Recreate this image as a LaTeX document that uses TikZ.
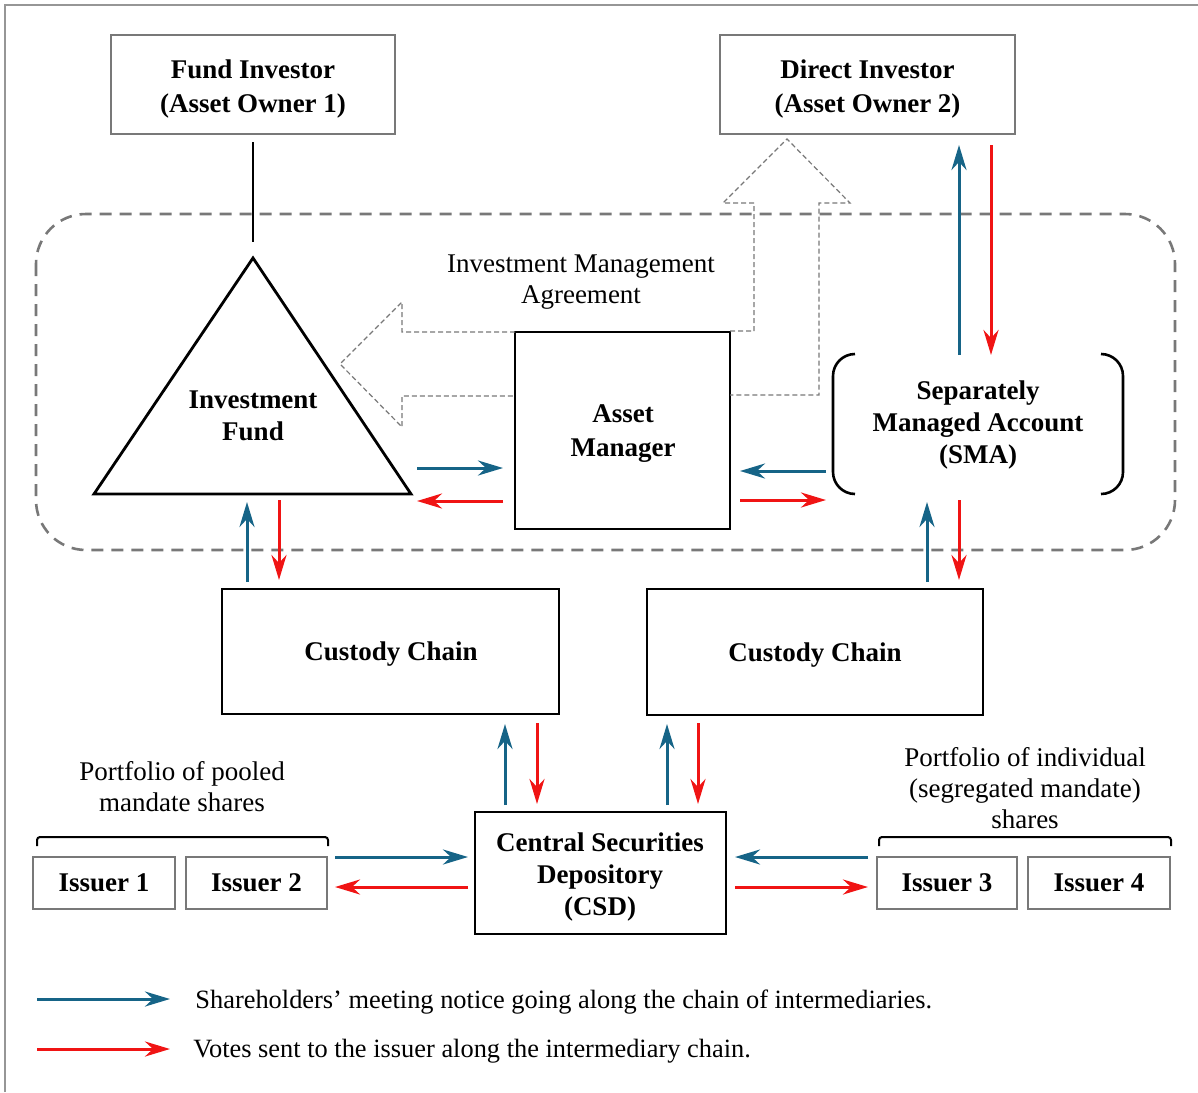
\documentclass[tikz,border=0pt]{standalone}
\usepackage{fontspec}
\setmainfont{Liberation Serif}
\usetikzlibrary{arrows.meta}
\definecolor{cblue}{RGB}{22,100,135}
\definecolor{cred}{RGB}{240,20,20}
\definecolor{frame}{RGB}{150,150,150}
\definecolor{dgray}{RGB}{120,120,120}
\tikzset{
  thinbox/.style={draw=dgray, line width=0.7pt, inner sep=0pt},
  thickbox/.style={draw=black, line width=1.4pt, inner sep=0pt},
  btext/.style={font=\fontsize{13.5}{16}\selectfont\bfseries, align=center, inner sep=0pt},
  rtext/.style={font=\fontsize{13.5}{15.5}\selectfont, align=center, inner sep=0pt},
  ltext/.style={font=\fontsize{13.2}{15.5}\selectfont, inner sep=0pt, anchor=west},
  blu/.style={draw=cblue, line width=1.5pt, -{Stealth[length=12.5pt,width=7.5pt,inset=4pt]}},
  rd/.style={draw=cred, line width=1.5pt, -{Stealth[length=12.5pt,width=7.5pt,inset=4pt]}},
  outline/.style={draw=dgray, line width=0.6pt, dash pattern=on 2.5pt off 1.5pt},
}
\begin{document}
\begin{tikzpicture}[x=0.5pt,y=-0.5pt]
\useasboundingbox (0,0) rectangle (1198,1092);
% frame
\draw[frame, line width=1pt] (5,1092) -- (5,5) -- (1198,5);
% dashed group
\draw[dgray, line width=1.3pt, dash pattern=on 6pt off 4pt, rounded corners=25pt] (36,214) rectangle (1175,550);
% boxes
\node[thinbox, minimum width=142pt, minimum height=49.5pt] (fi) at (253,84.5) {};
\node[btext, font=\fontsize{13.5}{17}\selectfont\bfseries] (fit) at (253,89) {Fund Investor\\(Asset Owner 1)};
\node[thinbox, minimum width=147.5pt, minimum height=49.5pt] (di) at (867.5,84.5) {};
\node[btext, font=\fontsize{13.5}{17}\selectfont\bfseries] (dit) at (867.5,89) {Direct Investor\\(Asset Owner 2)};
\node[thickbox, minimum width=107.5pt, minimum height=98.5pt] (am) at (622.5,430.5) {};
\node[btext, font=\fontsize{13.5}{17}\selectfont\bfseries] (amt) at (623,434) {Asset\\Manager};
\node[thickbox, minimum width=168.5pt, minimum height=62.5pt] (c1) at (390.5,651.5) {};
\node[btext] (c1t) at (391,654) {Custody Chain};
\node[thickbox, minimum width=168pt, minimum height=63pt] (c2) at (815,652) {};
\node[btext] (c2t) at (815,655) {Custody Chain};
\node[thickbox, minimum width=125.5pt, minimum height=61pt] (csd) at (600.5,873) {};
\node[btext] (csdt) at (600,877) {Central Securities\\Depository\\(CSD)};
\node[thinbox, minimum width=71pt, minimum height=26pt] (i1) at (104,883) {};
\node[btext] at (i1) {Issuer 1};
\node[thinbox, minimum width=70.5pt, minimum height=26pt] (i2) at (256.5,883) {};
\node[btext] at (i2) {Issuer 2};
\node[thinbox, minimum width=70pt, minimum height=26pt] (i3) at (947,883) {};
\node[btext] at (i3) {Issuer 3};
\node[thinbox, minimum width=71pt, minimum height=26pt] (i4) at (1099,883) {};
\node[btext] at (i4) {Issuer 4};
% triangle
\coordinate (tA) at (253,258);
\coordinate (tL) at (94,494);
\coordinate (tR) at (411,494);
\draw[line width=1.4pt, line join=miter] (tA) -- (tL) -- (tR) -- cycle;
\node[btext] (fund) at (253,416) {Investment\\Fund};
\draw[line width=1.2pt] (253,142) -- (253,242);
% SMA
\node[btext] (sma) at (978,425) {Separately\\Managed Account\\(SMA)};
\draw[line width=1.3pt, rounded corners=11pt] (855,354) -- (833,354) -- (833,494) -- (855,494);
\draw[line width=1.3pt, rounded corners=11pt] (1101,354) -- (1123,354) -- (1123,494) -- (1101,494);
% dashed hollow arrows
\draw[outline] (515,332) -- (402,332) -- (402,302) -- (340,364) -- (402,427) -- (402,396) -- (515,396);
\draw[outline] (730,331) -- (754,331) -- (754,203) -- (723,203) -- (787,139) -- (850,203) -- (819,203) -- (819,395) -- (730,395);
\node[rtext] (ima) at (581,282) {Investment Management\\Agreement};
% arrows direct investor
\draw[blu] (959,355) -- (959,145);
\draw[rd] (991,145) -- (991,355);
% fund <-> AM
\draw[blu] (417,468) -- (503,468);
\draw[rd] (503,501) -- (417,501);
% SMA <-> AM
\draw[blu] (826,471) -- (740,471);
\draw[rd] (740,500) -- (826,500);
% triangle <-> custody 1
\draw[blu] (247,582) -- (247,502);
\draw[rd] (279,500) -- (279,580);
% SMA <-> custody 2
\draw[blu] (927,582) -- (927,502);
\draw[rd] (959,500) -- (959,580);
% custody <-> CSD
\draw[blu] (505,805) -- (505,724);
\draw[rd] (537,723) -- (537,804);
\draw[blu] (667,805) -- (667,724);
\draw[rd] (698,723) -- (698,804);
% issuers <-> CSD
\draw[blu] (335,857) -- (468,857);
\draw[rd] (468,887) -- (335,887);
\draw[blu] (868,857) -- (735,857);
\draw[rd] (735,887) -- (868,887);
% braces
\draw[line width=1pt, rounded corners=1.5pt] (37,846) -- (37,837) -- (328,837) -- (328,846);
\draw[line width=1pt, rounded corners=1.5pt] (879,846) -- (879,837) -- (1171,837) -- (1171,846);
\node[rtext] (pp) at (182,787) {Portfolio of pooled\\mandate shares};
\node[rtext] (pi) at (1025,788) {Portfolio of individual\\(segregated mandate)\\shares};
% legend
\coordinate (lb1) at (37,999); \coordinate (lb2) at (170,999);
\coordinate (lr1) at (37,1049); \coordinate (lr2) at (170,1049);
\draw[blu] (lb1) -- (lb2);
\draw[rd] (lr1) -- (lr2);
\node[ltext] (lt1) at (195,1002) {Shareholders’ meeting notice going along the chain of intermediaries.};
\node[ltext] (lt2) at (193,1051) {Votes sent to the issuer along the intermediary chain.};
\end{tikzpicture}
\end{document}
